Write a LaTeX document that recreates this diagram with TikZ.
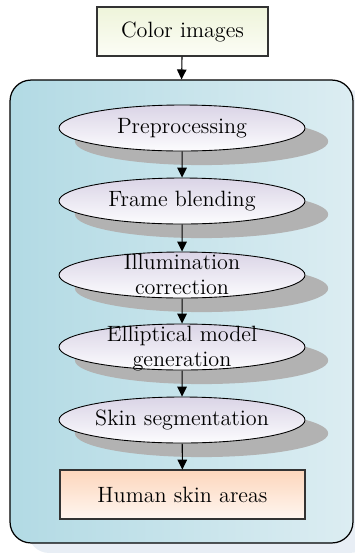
\documentclass[tikz,border=0pt]{standalone}
\usepackage{amsmath}
\usepackage{tikz}
\usetikzlibrary{shapes.geometric,shadows,arrows.meta}
\definecolor{panelleft}{RGB}{178,218,228}
\definecolor{panelright}{RGB}{220,237,242}
\definecolor{panelshade}{RGB}{232,238,245}
\definecolor{inputtop}{RGB}{238,244,218}
\definecolor{inputbot}{RGB}{252,253,246}
\definecolor{stagetop}{RGB}{218,212,230}
\definecolor{stagebot}{RGB}{252,252,254}
\definecolor{stageshade}{RGB}{178,178,178}
\definecolor{outtop}{RGB}{252,214,188}
\definecolor{outbot}{RGB}{255,246,240}
\newcommand{\twolines}[2]{\smash{\raisebox{-4.2pt}{\begin{tabular}{@{}c@{}}#1\\#2\end{tabular}}}}

\begin{document}
\begin{tikzpicture}[scale=0.02]
\tikzstyle{every node}+=[inner sep=0pt, align=center, font=\fontsize{12.6}{14}\selectfont]
\tikzstyle{panel}=[draw=black, line width=0.7pt, rounded corners=0.42cm, left color=panelleft, right color=panelright, minimum width=6.86cm, minimum height=9.26cm, drop shadow={shadow xshift=0.36cm, shadow yshift=-0.2cm, fill=panelshade, opacity=1}]
\tikzstyle{databox}=[draw=black!80, line width=0.6pt, minimum height=0.98cm]
\tikzstyle{stage}=[ellipse, draw=black, line width=0.5pt, top color=stagetop, bottom color=stagebot, minimum width=4.92cm, minimum height=0.92cm, drop shadow={shadow xshift=0.38cm, shadow yshift=-0.26cm, shadow scale=1.03, fill=stageshade, opacity=1}]
\tikzstyle{flow}=[black, line width=0.6pt, -{Triangle[width=0.19cm, length=0.2cm]}]
\useasboundingbox (0,0) rectangle (355,-554);
\node [panel] (frame) at (181.5,-311.5) {};
\node [databox, top color=inputtop, bottom color=inputbot, minimum width=3.42cm] (color) at (182.5,-31.5) {Color images};
\node [stage] (prep) at (182,-128) {Preprocessing};
\node [stage] (blend) at (182,-201) {Frame blending};
\node [stage] (illum) at (182,-275) {\twolines{Illumination}{correction}};
\node [stage] (model) at (182,-347) {\twolines{Elliptical model}{generation}};
\node [stage] (seg) at (182,-420) {Skin segmentation};
\node [databox, top color=outtop, bottom color=outbot, minimum width=4.9cm] (skin) at (182.5,-494.5) {Human skin areas};
\draw [flow] (color) -- (frame.north);
\draw [flow] (prep) -- (blend);
\draw [flow] (blend) -- (illum);
\draw [flow] (illum) -- (model);
\draw [flow] (model) -- (seg);
\draw [flow] (seg) -- (skin);
\end{tikzpicture}
\end{document}
